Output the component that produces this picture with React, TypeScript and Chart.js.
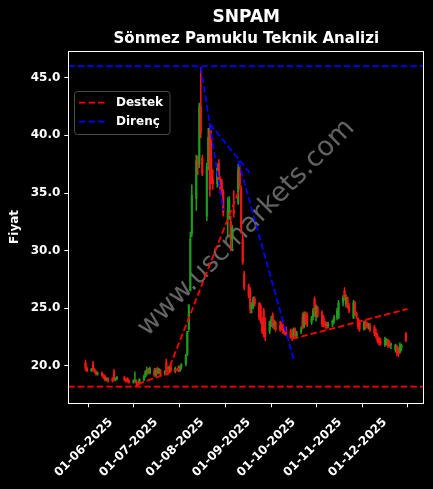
import React, { useEffect, useRef } from "react";
import { Chart, registerables } from "chart.js";

Chart.register(...registerables);

const chartTitle = "SNPAM";
const chartSubtitle = "Sönmez Pamuklu Teknik Analizi";
const yAxisLabel = "Fiyat";
const watermarkText = "www.uscmarkets.com";

// candle data (date, open, high, low, close)
const dates = [
  "2025-05-15","2025-05-16","2025-05-19","2025-05-20","2025-05-21","2025-05-22","2025-05-23",
  "2025-05-26","2025-05-27","2025-05-28","2025-05-29","2025-05-30",
  "2025-06-02","2025-06-03","2025-06-04","2025-06-05",
  "2025-06-10","2025-06-11","2025-06-12","2025-06-13",
  "2025-06-16","2025-06-17","2025-06-18","2025-06-19","2025-06-20",
  "2025-06-23","2025-06-24","2025-06-25","2025-06-26","2025-06-27",
  "2025-06-30","2025-07-01","2025-07-02","2025-07-03","2025-07-04",
  "2025-07-07","2025-07-08","2025-07-09","2025-07-10","2025-07-11",
  "2025-07-14","2025-07-16","2025-07-17","2025-07-18",
  "2025-07-21","2025-07-22","2025-07-23","2025-07-24","2025-07-25",
  "2025-07-28","2025-07-29","2025-07-30","2025-07-31","2025-08-01",
  "2025-08-04","2025-08-05","2025-08-06","2025-08-07","2025-08-08",
  "2025-08-11","2025-08-12","2025-08-13","2025-08-14","2025-08-15",
  "2025-08-18","2025-08-19","2025-08-20","2025-08-21","2025-08-22",
  "2025-08-25","2025-08-26","2025-08-27","2025-08-28","2025-08-29",
  "2025-09-01","2025-09-02","2025-09-03","2025-09-04","2025-09-05",
  "2025-09-08","2025-09-09","2025-09-10","2025-09-11","2025-09-12",
  "2025-09-15","2025-09-16","2025-09-17","2025-09-18","2025-09-19",
  "2025-09-22","2025-09-23","2025-09-24","2025-09-25","2025-09-26",
  "2025-09-29","2025-09-30","2025-10-01","2025-10-02","2025-10-03",
  "2025-10-06","2025-10-07","2025-10-08","2025-10-09","2025-10-10",
  "2025-10-13","2025-10-14","2025-10-15","2025-10-16","2025-10-17",
  "2025-10-20","2025-10-21","2025-10-22","2025-10-23","2025-10-24",
  "2025-10-27","2025-10-28","2025-10-30","2025-10-31",
  "2025-11-03","2025-11-04","2025-11-05","2025-11-06","2025-11-07",
  "2025-11-10","2025-11-11","2025-11-12","2025-11-13","2025-11-14",
  "2025-11-17","2025-11-18","2025-11-19","2025-11-20","2025-11-21",
  "2025-11-24","2025-11-25","2025-11-26","2025-11-27","2025-11-28",
  "2025-12-01","2025-12-02","2025-12-03","2025-12-04","2025-12-05",
  "2025-12-08","2025-12-09","2025-12-10","2025-12-11","2025-12-12",
  "2025-12-15",
];
const opens = [
  20.3,19.8,19.6,20.2,19.7,19.5,19.3,
  19.4,19.2,19.1,18.8,18.9,
  18.9,19.5,18.8,18.9,
  19.0,18.8,18.9,18.7,
  18.6,18.7,18.7,18.5,18.5,
  18.8,19.1,19.4,19.7,19.4,
  19.6,19.2,19.5,19.4,19.6,
  19.4,20.3,19.6,19.5,19.9,
  19.6,19.8,19.6,19.9,
  20.2,21.0,23.2,26.5,31.5,
  34.5,37.8,37.5,42.5,38.0,
  33.0,37.5,40.2,38.0,36.2,
  35.8,37.6,35.9,36.0,35.1,
  32.8,33.0,32.5,31.0,33.5,
  34.1,37.0,35.3,31.0,28.0,
  27.0,26.5,25.0,25.1,25.8,
  25.4,25.2,24.0,24.8,23.3,
  23.0,23.8,24.4,23.5,23.7,
  23.5,23.6,23.4,23.3,23.2,
  23.0,22.8,22.6,23.2,22.6,
  23.0,24.2,23.4,24.5,24.4,
  23.8,24.2,25.8,24.3,25.0,
  24.6,24.2,23.7,23.6,23.5,
  23.6,23.9,24.2,24.2,
  25.5,26.5,25.4,25.9,25.2,
  24.2,25.4,24.6,24.1,23.9,
  23.2,23.8,23.7,23.4,23.5,
  23.4,22.9,22.6,22.4,22.2,
  21.8,22.0,22.2,22.0,21.8,
  21.4,21.7,21.5,21.2,21.6,
  22.8,
];
const highs = [
  20.5,19.9,19.8,20.4,19.8,19.6,19.5,
  19.5,19.3,19.2,19.0,19.0,
  19.0,19.7,19.0,19.1,
  19.1,18.9,19.0,18.8,
  18.8,19.5,18.8,18.6,18.9,
  19.2,19.6,19.9,19.8,19.9,
  19.8,19.8,19.9,19.8,19.7,
  19.6,20.6,19.9,20.0,20.1,
  19.9,20.0,20.0,20.2,
  21.0,23.0,25.3,31.6,35.7,
  38.3,38.2,42.8,45.9,38.3,
  37.6,40.6,41.0,40.4,37.0,
  37.5,37.9,36.4,36.2,35.3,
  34.6,34.7,33.0,32.2,35.2,
  37.5,37.4,35.5,31.5,28.2,
  27.1,26.8,25.5,26.0,26.0,
  25.5,25.4,24.2,25.0,24.2,
  23.9,24.3,24.6,24.0,23.9,
  23.9,23.8,23.6,23.4,23.4,
  23.2,23.2,23.3,23.3,23.0,
  23.4,24.6,24.7,24.7,24.6,
  24.3,25.0,26.0,25.3,25.2,
  24.8,24.4,23.9,23.8,23.8,
  24.0,24.4,25.0,25.7,
  26.1,26.8,26.2,26.0,25.4,
  25.7,25.6,24.7,24.2,24.0,
  23.9,24.0,23.8,23.7,23.7,
  23.5,23.2,22.8,22.5,22.4,
  22.5,22.4,22.3,22.2,22.0,
  21.9,21.8,21.6,22.0,21.9,
  22.9,
];
const lows = [
  19.6,19.5,19.5,19.6,19.4,19.2,19.2,
  19.1,18.9,18.7,18.7,18.6,
  18.6,18.7,18.7,18.8,
  18.7,18.6,18.6,18.5,
  18.5,18.6,18.2,18.3,18.4,
  18.7,19.0,19.2,19.3,19.3,
  19.1,19.1,19.3,19.3,19.2,
  19.2,19.5,19.2,19.4,19.5,
  19.4,19.5,19.5,19.7,
  20.0,20.9,23.0,26.5,31.2,
  33.5,36.6,37.2,39.8,36.5,
  32.6,37.0,34.7,35.8,35.3,
  35.5,35.6,35.0,34.9,33.0,
  31.2,32.7,30.0,30.2,32.9,
  34.0,35.5,31.5,28.8,26.6,
  25.9,24.6,24.6,25.0,25.2,
  24.0,23.7,22.8,22.5,22.2,
  22.8,23.4,23.3,23.2,23.0,
  23.0,23.1,22.8,22.7,22.6,
  22.4,22.2,22.4,22.4,22.4,
  22.8,23.2,23.3,23.6,23.4,
  23.6,24.0,24.3,23.9,24.2,
  23.4,23.4,23.3,23.2,23.3,
  23.4,23.7,24.0,24.1,
  25.2,25.7,25.1,25.0,24.6,
  24.1,24.4,24.1,23.2,23.0,
  23.1,23.2,23.3,23.2,23.0,
  22.6,22.4,22.0,21.8,21.8,
  21.7,21.8,21.6,21.6,21.5,
  21.2,20.9,20.8,21.1,21.3,
  22.1,
];
const closes = [
  19.8,19.6,19.7,19.7,19.5,19.3,19.4,
  19.2,19.0,18.8,18.9,18.7,
  18.7,18.8,18.9,19.0,
  18.8,18.7,18.7,18.6,
  18.7,18.7,18.5,18.4,18.8,
  19.1,19.5,19.7,19.4,19.8,
  19.2,19.6,19.4,19.7,19.3,
  19.5,19.6,19.5,19.9,19.6,
  19.8,19.6,19.9,20.1,
  20.9,23.0,25.3,31.0,34.8,
  37.8,37.3,42.5,40.2,36.7,
  37.3,39.8,35.3,36.2,35.8,
  37.2,35.9,35.4,35.1,33.3,
  33.5,34.4,31.0,32.0,33.2,
  37.0,35.8,32.0,29.0,26.8,
  26.1,25.0,25.3,25.8,25.4,
  24.2,23.9,23.0,22.8,22.5,
  23.8,24.0,23.5,23.7,23.2,
  23.2,23.3,22.9,22.8,22.7,
  22.5,22.4,23.1,22.6,22.9,
  23.1,23.4,24.5,23.8,23.6,
  24.1,24.8,24.6,25.1,24.4,
  23.6,23.6,23.5,23.4,23.6,
  23.9,24.2,24.8,25.5,
  25.9,25.9,25.9,25.2,24.8,
  25.5,24.6,24.3,23.4,23.2,
  23.8,23.4,23.4,23.5,23.1,
  22.8,22.6,22.2,22.0,21.9,
  22.3,22.2,21.7,21.8,21.9,
  21.8,21.1,21.0,21.8,21.8,
  22.2,
];

// support (Destek) and resistance (Direnç) levels and trend segments: [startDate, startValue, endDate, endValue]
const destekLevel = 18.2;
const direncLevel = 46.0;
const destekSegments: [string, number, string, number][] = [
  ["2025-06-19", 18.43, "2025-07-17", 19.74],
  ["2025-07-08", 19.2, "2025-08-27", 35.7],
  ["2025-09-30", 22.34, "2025-12-16", 24.94],
];
const direncSegments: [string, number, string, number][] = [
  ["2025-07-31", 45.9, "2025-08-06", 41.0],
  ["2025-08-06", 41.0, "2025-09-02", 36.7],
  ["2025-08-06", 41.0, "2025-08-15", 33.5],
  ["2025-08-25", 37.8, "2025-10-01", 20.6],
];

// axes
const xLimits = ["2025-05-03T12:00Z", "2025-12-27T07:00Z"];
const yLimits = [16.76, 47.36];
const xTickDates = ["2025-06-01","2025-07-01","2025-08-01","2025-09-01","2025-10-01","2025-11-01","2025-12-01"];
const xTickLabels = ["01-06-2025","01-07-2025","01-08-2025","01-09-2025","01-10-2025","01-11-2025","01-12-2025"];
const yTicks = [20, 25, 30, 35, 40, 45];

const FONT = "'DejaVu Sans', 'Liberation Sans', sans-serif";
const UP = "#1f9a1f";
const DOWN = "#f01616";
const RED_LINE = "#ff0000";
const BLUE_LINE = "#0000ff";

const EPOCH = Date.parse("2025-06-01T00:00:00Z");
const toDay = (s: string) => {
  const iso = s.length === 10 ? s + "T00:00:00Z" : s;
  return (Date.parse(iso) - EPOCH) / 86400000;
};

function buildLine(level: number, segs: [string, number, string, number][], xMin: number, xMax: number) {
  const pts: { x: number; y: number | null }[] = [
    { x: xMin, y: level },
    { x: xMax, y: level },
    { x: xMax, y: null },
  ];
  segs.forEach(([d1, v1, d2, v2]) => {
    pts.push({ x: toDay(d1), y: v1 });
    pts.push({ x: toDay(d2), y: v2 });
    pts.push({ x: toDay(d2), y: null });
  });
  return pts;
}

const watermarkPlugin = {
  id: "watermark",
  beforeDatasetsDraw(chart: any) {
    const { ctx, chartArea: a } = chart;
    ctx.save();
    ctx.beginPath();
    ctx.rect(a.left, a.top, a.right - a.left, a.bottom - a.top);
    ctx.clip();
    ctx.translate(a.left + (a.right - a.left) * 0.5, a.top + (a.bottom - a.top) * 0.503);
    ctx.rotate(-Math.PI / 4);
    ctx.font = `27px ${FONT}`;
    ctx.fillStyle = "rgba(160,160,160,0.62)";
    ctx.textAlign = "center";
    ctx.textBaseline = "middle";
    ctx.fillText(watermarkText, 0, 0);
    ctx.restore();
  },
};

const framePlugin = {
  id: "frame",
  afterDatasetsDraw(chart: any) {
    const { ctx, chartArea: a } = chart;
    ctx.save();
    ctx.strokeStyle = "#ffffff";
    ctx.lineWidth = 1;
    ctx.strokeRect(Math.round(a.left) + 0.5, Math.round(a.top) + 0.5, Math.round(a.right - a.left) - 1, Math.round(a.bottom - a.top) - 1);
    ctx.restore();
  },
};

const legendPlugin = {
  id: "boxLegend",
  afterDraw(chart: any) {
    const { ctx, chartArea: a } = chart;
    const items = chart.data.datasets.filter((d: any) => d.type === "line");
    const x0 = a.left + 6.2;
    const y0 = a.top + 41;
    const w = 95.5;
    const h = 43;
    ctx.save();
    ctx.beginPath();
    ctx.roundRect(x0, y0, w, h, 3);
    ctx.fillStyle = "rgba(0,0,0,0.8)";
    ctx.fill();
    ctx.strokeStyle = "#4a4a4a";
    ctx.lineWidth = 1;
    ctx.stroke();
    items.forEach((d: any, i: number) => {
      const cy = y0 + 11.2 + i * 19;
      ctx.beginPath();
      ctx.strokeStyle = d.borderColor;
      ctx.lineWidth = d.borderWidth;
      ctx.setLineDash(d.borderDash || []);
      ctx.moveTo(x0 + 4.5, cy);
      ctx.lineTo(x0 + 31.5, cy);
      ctx.stroke();
      ctx.setLineDash([]);
      ctx.fillStyle = "#ffffff";
      ctx.font = `bold 12px ${FONT}`;
      ctx.textAlign = "left";
      ctx.textBaseline = "middle";
      ctx.fillText(d.label, x0 + 41.5, cy);
    });
    ctx.restore();
  },
};

export default function App() {
  const ref = useRef<HTMLCanvasElement | null>(null);

  useEffect(() => {
    if (!ref.current) return;
    const xMin = toDay(xLimits[0]);
    const xMax = toDay(xLimits[1]);
    const days = dates.map(toDay);
    const colors = dates.map((_, i) => (closes[i] >= opens[i] ? UP : DOWN));
    const xTickDays = xTickDates.map(toDay);

    const chart = new Chart(ref.current, {
      type: "bar",
      data: {
        datasets: [
          {
            type: "line",
            label: "Destek",
            data: buildLine(destekLevel, destekSegments, xMin, xMax),
            borderColor: RED_LINE,
            borderWidth: 1.8,
            borderDash: [6.5, 3],
            pointRadius: 0,
            fill: false,
            spanGaps: false,
            order: 0,
          },
          {
            type: "line",
            label: "Direnç",
            data: buildLine(direncLevel, direncSegments, xMin, xMax),
            borderColor: BLUE_LINE,
            borderWidth: 1.8,
            borderDash: [6.5, 3],
            pointRadius: 0,
            fill: false,
            spanGaps: false,
            order: 0,
          },
          {
            type: "bar",
            label: "wick",
            data: days.map((x, i) => ({ x, y: [lows[i], highs[i]] })),
            backgroundColor: colors,
            barThickness: 0.9,
            grouped: false,
            order: 2,
          },
          {
            type: "bar",
            label: "body",
            data: days.map((x, i) => ({ x, y: [opens[i], closes[i]] })),
            backgroundColor: colors,
            barThickness: 1.5,
            minBarLength: 1,
            grouped: false,
            order: 1,
          },
        ] as any,
      },
      options: {
        responsive: false,
        animation: false,
        devicePixelRatio: 1,
        layout: { padding: { left: 0, right: 8.7, top: 0, bottom: 0 } },
        plugins: {
          legend: { display: false },
          tooltip: { enabled: false },
          title: {
            display: true,
            text: chartTitle,
            color: "#ffffff",
            fullSize: false,
            font: { family: FONT, size: 17, weight: "bold", lineHeight: 1.2 },
            padding: { top: 7, bottom: 0 },
          },
          subtitle: {
            display: true,
            text: chartSubtitle,
            color: "#ffffff",
            fullSize: false,
            font: { family: FONT, size: 15, weight: "bold", lineHeight: 1.2 },
            padding: { top: 2.5, bottom: 2.6 },
          },
        },
        scales: {
          x: {
            type: "linear",
            min: xMin,
            max: xMax,
            offset: false,
            afterBuildTicks: (s: any) => {
              s.ticks = xTickDays.map((v) => ({ value: v }));
            },
            afterFit: (s: any) => {
              s.height = 85.7;
            },
            grid: { display: true, drawOnChartArea: false, drawTicks: true, tickLength: 4, color: "#ffffff" },
            border: { display: false },
            ticks: {
              color: "#ffffff",
              font: { family: FONT, size: 12, weight: "bold" },
              minRotation: 45,
              maxRotation: 45,
              autoSkip: false,
              padding: 8,
              callback: (_v: any, i: number) => xTickLabels[i],
            },
          },
          y: {
            type: "linear",
            min: yLimits[0],
            max: yLimits[1],
            afterBuildTicks: (s: any) => {
              s.ticks = yTicks.map((v) => ({ value: v }));
            },
            afterFit: (s: any) => {
              s.width = 68.3;
            },
            grid: { display: true, drawOnChartArea: false, drawTicks: true, tickLength: 4, color: "#ffffff" },
            border: { display: false },
            ticks: {
              color: "#ffffff",
              font: { family: FONT, size: 12, weight: "bold" },
              padding: 4,
              callback: (v: any) => Number(v).toFixed(1),
            },
            title: {
              display: true,
              text: yAxisLabel,
              color: "#ffffff",
              font: { family: FONT, size: 12, weight: "bold" },
              padding: { top: 8, bottom: 0 },
            },
          },
        },
      } as any,
      plugins: [watermarkPlugin, framePlugin, legendPlugin],
    });
    return () => chart.destroy();
  }, []);

  return (
    <div style={{ position: "fixed", left: 0, top: 0, width: 433, height: 489, background: "#000" }}>
      <canvas ref={ref} width={433} height={489} style={{ display: "block" }} />
    </div>
  );
}
